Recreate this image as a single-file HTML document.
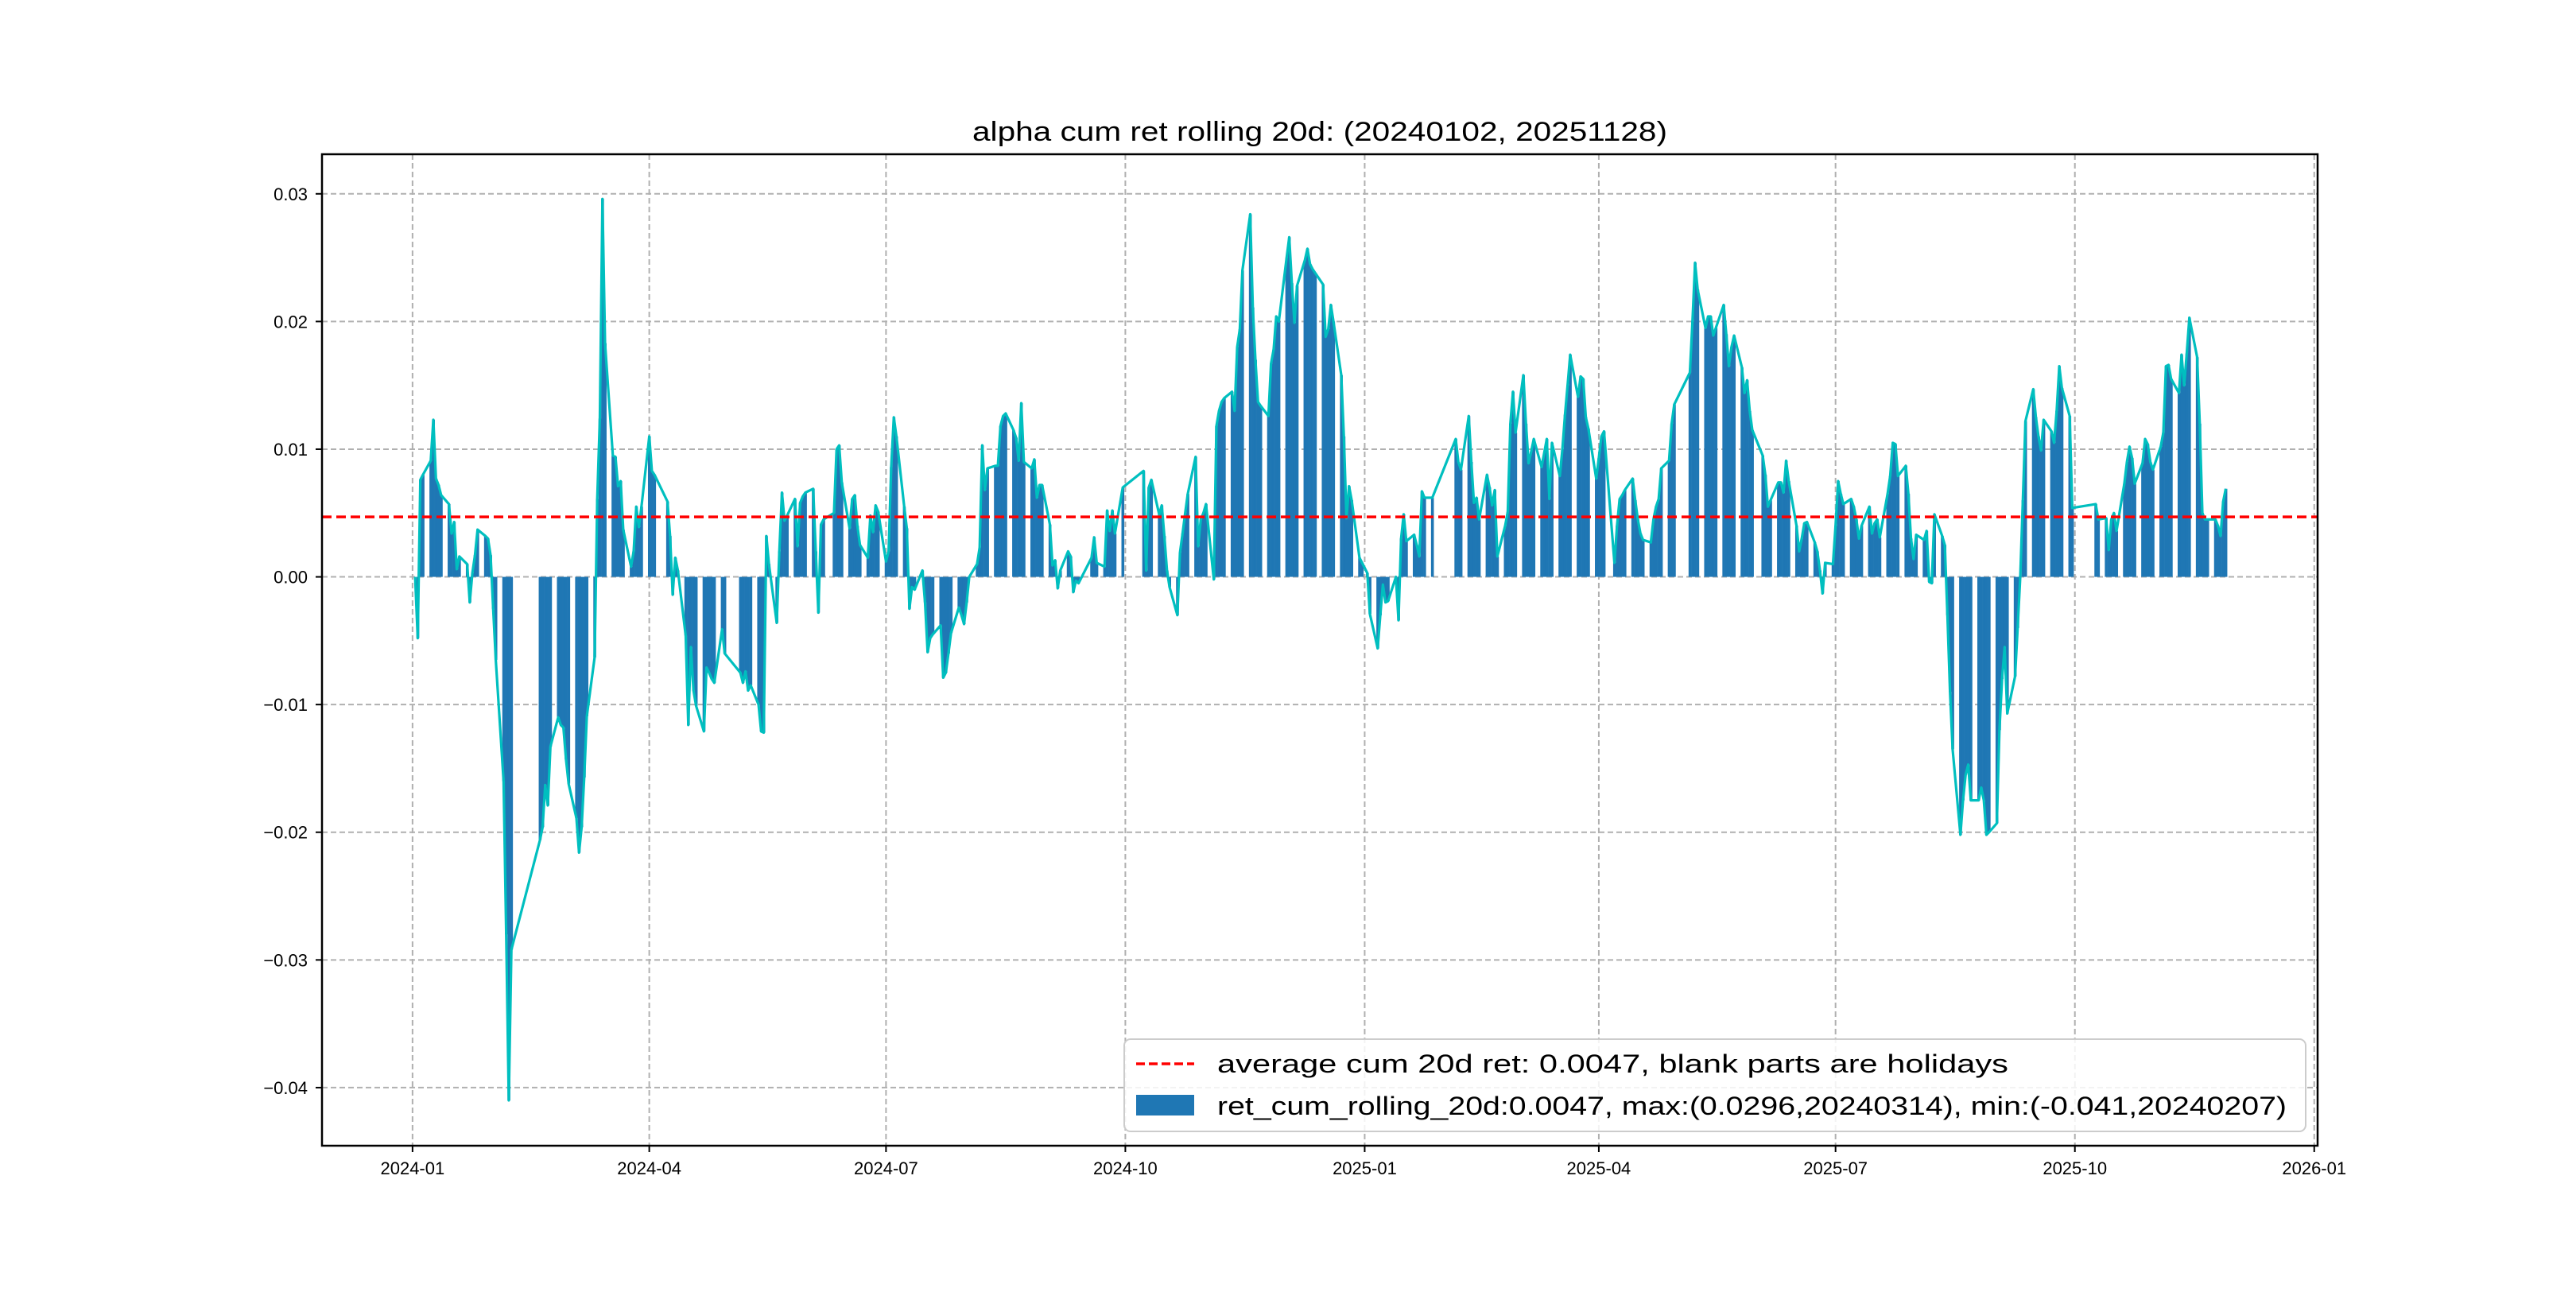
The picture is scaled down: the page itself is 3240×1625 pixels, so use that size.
<!DOCTYPE html>
<html><head><meta charset="utf-8"><style>
html,body{margin:0;padding:0;background:#fff;}
svg text{font-family:"Liberation Sans","DejaVu Sans",sans-serif;}
</style></head><body>
<svg id="chart" xmlns="http://www.w3.org/2000/svg" width="3240" height="1620" viewBox="0 0 3240 1620">
<rect x="0" y="0" width="3240" height="1620" fill="#ffffff"/>
<text x="1660" y="177" text-anchor="middle" font-size="34" textLength="874" lengthAdjust="spacingAndGlyphs" fill="#000">alpha cum ret rolling 20d: (20240102, 20251128)</text>
<g id="grid"></g>
<g id="bars"></g>
<g id="lines"></g>
<g id="axes"></g>
<g id="legend">
<rect x="1414" y="1307" width="1486" height="116" rx="8" fill="#ffffff" fill-opacity="0.85" stroke="#cccccc" stroke-width="2"/>
<line x1="1429" y1="1338" x2="1502" y2="1338" stroke="#ff0000" stroke-width="3.5" stroke-dasharray="11,5"/>
<text x="1531" y="1349" font-size="32" textLength="995" lengthAdjust="spacingAndGlyphs">average cum 20d ret: 0.0047, blank parts are holidays</text>
<rect x="1429" y="1377" width="73" height="26" fill="#1f77b4"/>
<text x="1531" y="1402" font-size="32" textLength="1345" lengthAdjust="spacingAndGlyphs">ret_cum_rolling_20d:0.0047, max:(0.0296,20240314), min:(-0.041,20240207)</text>
</g>
</svg>
<script>
const holidays = ["2024-01-01","2024-02-09","2024-02-12","2024-02-13","2024-02-14","2024-02-15","2024-02-16","2024-04-04","2024-04-05","2024-05-01","2024-05-02","2024-05-03","2024-06-10","2024-09-16","2024-09-17","2024-10-01","2024-10-02","2024-10-03","2024-10-04","2024-10-07","2025-01-01","2025-01-28","2025-01-29","2025-01-30","2025-01-31","2025-02-03","2025-02-04","2025-04-04","2025-05-01","2025-05-02","2025-05-05","2025-06-02","2025-10-01","2025-10-02","2025-10-03","2025-10-06","2025-10-07","2025-10-08"];
const startDate = "2024-01-02";
const endDate = "2025-11-28";
const values = [
0.0,-0.0048,0.0076,0.008,0.0091,0.0123,0.0077,0.0072,0.0064,0.0057,0.0034,0.0043,0.0006,0.0016,0.001,-0.002,0.0003,0.0017,0.0037,0.0032,0.003,0.0017,
-0.0025,-0.0065,-0.016,-0.028,-0.041,-0.0292,-0.0206,-0.0196,-0.0163,-0.0179,-0.0133,-0.011,-0.0116,-0.0118,-0.0143,
-0.0162,-0.0189,-0.0216,-0.0196,-0.0157,-0.0109,-0.0063,0.0061,0.0124,0.0296,0.0183,0.0095,0.0094,0.0071,0.0075,0.0037,0.0008,0.002,0.0055,0.0039,0.0055,
0.011,0.0083,0.008,0.0059,0.0032,-0.0014,0.0015,0.0005,-0.0046,-0.0116,-0.0055,-0.0089,-0.0101,-0.0121,-0.0071,-0.0075,-0.008,-0.0083,-0.0041,-0.006,
-0.0075,-0.0083,-0.0074,-0.0089,-0.0085,-0.0100,-0.0121,-0.0122,0.0032,0.001,-0.0036,0.002,0.0066,0.0044,0.0048,0.0061,0.0024,0.0058,0.0063,0.0066,
0.0069,0.002,-0.0028,0.0041,0.0045,0.005,0.010,0.0103,0.0074,0.0038,0.0061,0.0064,0.004,0.0025,0.0015,0.0048,0.0035,0.0056,0.0051,
0.0012,0.002,0.0086,0.0125,0.011,0.0055,0.0038,-0.0025,-0.0008,-0.001,0.0005,-0.002,-0.0059,-0.0048,-0.0045,-0.0038,-0.0079,-0.0075,-0.006,-0.0044,-0.0024,-0.003,-0.0037,
-0.002,0.0,0.001,0.0023,0.0103,0.0068,0.0085,0.0087,0.0087,0.0118,0.0126,0.0128,0.0115,0.0109,0.0091,0.0136,0.009,0.0085,0.0092,0.0062,0.0072,0.0072,
0.0041,0.0009,0.0013,-0.0009,0.0005,0.002,0.0016,-0.0012,-0.0003,-0.0005,0.0015,0.0031,0.0011,0.0008,0.0052,0.0036,0.0052,0.0034,0.007,
0.0083,0.0005,0.007,0.0076,0.0049,0.0056,0.0032,0.0005,-0.0008,-0.003,0.0019,0.0034,0.005,0.0065,0.0094,0.0024,0.0045,0.005,
0.0057,-0.0002,0.0118,0.013,0.0137,0.014,0.0145,0.013,0.018,0.0194,0.024,0.0284,0.0211,0.017,0.0137,0.0134,0.0126,0.0167,0.0178,0.0204,0.02,
0.025,0.0266,0.023,0.0199,0.0228,0.0248,0.0257,0.0245,0.0241,0.0238,0.0229,0.0188,0.0194,0.0213,0.02,0.0158,0.011,0.0046,0.0071,0.006,0.0015,0.0011,
0.0003,-0.0029,-0.0056,-0.003,-0.0006,-0.002,-0.0019,0.0,-0.0034,0.003,0.0049,0.0028,0.0033,0.0025,0.0016,0.0067,0.0062,0.0062,
0.0108,0.009,0.0084,0.0126,0.009,0.0058,0.0062,0.0045,0.008,0.007,0.0056,0.0068,0.0016,0.004,0.0051,0.012,0.0145,0.0113,
0.0158,0.012,0.0089,0.0098,0.0108,0.0086,0.0097,0.0108,0.0061,0.0105,0.0079,0.01,0.0127,0.015,0.0174,0.0141,0.0157,0.0155,0.0125,0.0116,0.0077,
0.0093,0.011,0.0114,0.0011,0.004,0.0061,0.0064,0.0068,0.0077,0.006,0.0045,0.0034,0.0029,0.0027,0.0045,0.0055,0.0061,0.0085,0.0091,0.012,0.0135,
0.016,0.02,0.0246,0.0225,0.0195,0.0204,0.0204,0.0189,0.0195,0.0213,0.019,0.0165,0.018,0.0189,0.0164,0.0144,0.0154,0.013,0.0115,
0.0095,0.008,0.0055,0.006,0.0074,0.0074,0.0066,0.0091,0.0075,0.004,0.002,0.003,0.0042,0.0043,0.0027,0.002,0.0005,-0.0013,0.0011,0.001,
0.004,0.0075,0.0065,0.0057,0.0061,0.0055,0.0045,0.003,0.004,0.0055,0.0034,0.0042,0.0045,0.0031,0.0065,0.0079,0.0105,0.0104,0.0079,0.0087,0.0065,0.003,0.0014,
0.0033,0.0029,0.0036,-0.0004,-0.0005,0.0049,0.0032,0.0025,-0.003,-0.009,-0.0135,-0.0202,-0.0175,-0.0155,-0.0147,-0.0175,-0.0175,-0.0165,-0.0175,-0.0202,-0.02,
-0.0193,-0.012,-0.008,-0.0055,-0.0107,-0.0078,-0.004,0.0,0.006,0.0122,0.0147,0.0125,0.011,0.0099,0.0123,0.0114,0.0105,0.013,0.0165,0.0148,0.0126,0.0054,
0.0057,0.0045,0.0046,0.0021,0.0045,0.005,0.0036,0.0073,0.009,0.0102,0.0093,0.0073,0.0089,0.0108,0.0104,0.009,0.0084,
0.0102,0.0113,0.0165,0.0166,0.0155,0.0144,0.0174,0.015,0.0175,0.0203,0.0172,0.012,0.005,0.0045,0.0045,0.0045,0.004,0.0032,0.0059,0.0069
];
const averageValue = 0.0047;
const yTicks = [0.03,0.02,0.01,0.0,-0.01,-0.02,-0.03,-0.04];
const yTickLabels = ["0.03","0.02","0.01","0.00","\u22120.01","\u22120.02","\u22120.03","\u22120.04"];
const xTicks = ["2024-01-01","2024-04-01","2024-07-01","2024-10-01","2025-01-01","2025-04-01","2025-07-01","2025-10-01","2026-01-01"];
const xTickLabels = ["2024-01","2024-04","2024-07","2024-10","2025-01","2025-04","2025-07","2025-10","2026-01"];

const NS = "http://www.w3.org/2000/svg";
const L = 405, R = 2915, T = 194, B = 1441;
const DAY = 86400000;
const base = Date.UTC(2024,0,1);
function dayIndex(s){ const p = s.split("-"); return (Date.UTC(+p[0],+p[1]-1,+p[2]) - base)/DAY; }
const xMin = -34.8, xMax = 732.3;
const yMin = -0.04455, yMax = 0.0331;
function xs(d){ return L + (d - xMin)/(xMax - xMin)*(R - L); }
function ys(v){ return B - (v - yMin)/(yMax - yMin)*(B - T); }
function mk(tag, attrs, parent){ const e = document.createElementNS(NS, tag); for (const k in attrs) e.setAttribute(k, attrs[k]); parent.appendChild(e); return e; }

// trading dates
const dates = [];
{
  let t = Date.UTC(2024,0,2); const end = Date.UTC(2025,10,28);
  while (t <= end) {
    const d = new Date(t); const wd = d.getUTCDay();
    const s = d.toISOString().slice(0,10);
    if (wd !== 0 && wd !== 6 && holidays.indexOf(s) < 0) dates.push(s);
    t += DAY;
  }
}

const grid = document.getElementById("grid");
const axes = document.getElementById("axes");
yTicks.forEach((v,i) => {
  const y = ys(v);
  const g = mk("line", {x1:L, x2:R, y1:y, y2:y, stroke:"#b0b0b0", "stroke-width":2, "stroke-dasharray":"7,4"}, grid);
  
  
  const tk = mk("line", {x1:L-8, x2:L, y1:y, y2:y, stroke:"#000", "stroke-width":2}, axes);
  
  
  const tx = mk("text", {x:L-18, y:y+8, "text-anchor":"end", "font-size":22, fill:"#000"}, axes);
  tx.textContent = yTickLabels[i];
  
  
});
xTicks.forEach((s,i) => {
  const x = xs(dayIndex(s));
  const g = mk("line", {x1:x, x2:x, y1:T, y2:B, stroke:"#b0b0b0", "stroke-width":2, "stroke-dasharray":"7,4"}, grid);
  
  
  const tk = mk("line", {x1:x, x2:x, y1:B, y2:B+8, stroke:"#000", "stroke-width":2}, axes);
  
  
  const tx = mk("text", {x:x, y:B+36, "text-anchor":"middle", "font-size":22, fill:"#000"}, axes);
  tx.textContent = xTickLabels[i];
  
  
});
const frame = mk("rect", {x:L, y:T, width:R-L, height:B-T, fill:"none", stroke:"#000", "stroke-width":2.5}, axes);



// bars
const bars = document.getElementById("bars");
const n = Math.min(dates.length, values.length);
const bw = (xs(1) - xs(0));
const y0 = ys(0);
for (let i = 0; i < n; i++) {
  const x = xs(dayIndex(dates[i]));
  const y = ys(values[i]);
  const r = mk("rect", {x:x - bw/2, y:Math.min(y,y0), width:bw+0.3, height:Math.abs(y - y0), fill:"#1f77b4"}, bars);
  
  
}
// line
const lines = document.getElementById("lines");
let dstr = "";
for (let i = 0; i < n; i++) {
  dstr += (i ? "L" : "M") + xs(dayIndex(dates[i])).toFixed(2) + "," + ys(values[i]).toFixed(2);
}
const pl = mk("path", {d:dstr, fill:"none", stroke:"#00bfbf", "stroke-width":3.2, "stroke-linejoin":"round"}, lines);


const ay = ys(averageValue);
const av = mk("line", {x1:L, x2:R, y1:ay, y2:ay, stroke:"#ff0000", "stroke-width":3.5, "stroke-dasharray":"12,6"}, lines);


</script>
</body></html>
